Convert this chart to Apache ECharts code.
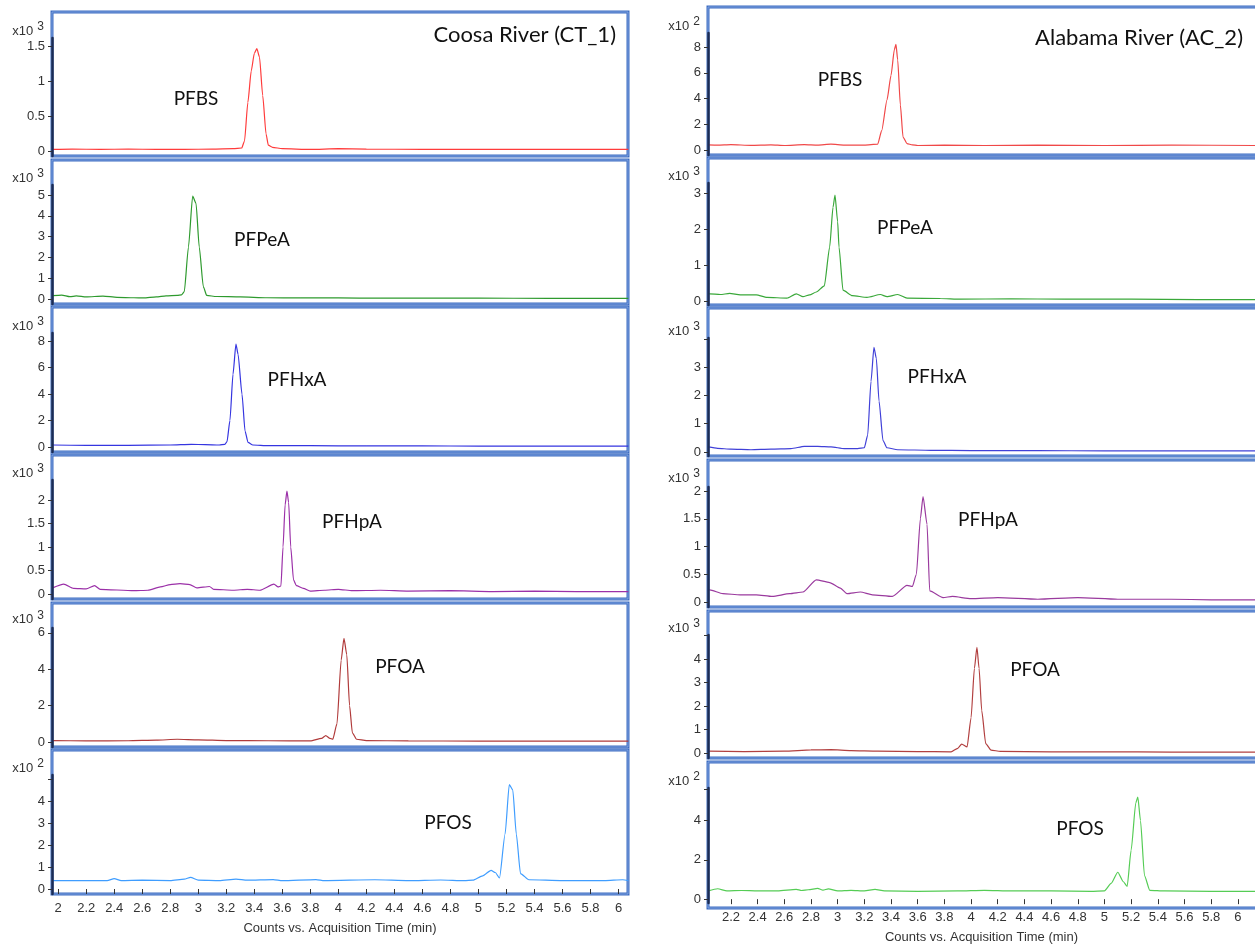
<!DOCTYPE html>
<html>
<head>
<meta charset="utf-8">
<script src="https://cdn.jsdelivr.net/npm/echarts@6/dist/echarts.min.js"></script>
<style>
html,body{margin:0;padding:0;background:#fff;}
#chart{width:1255px;height:945px;}
</style>
</head>
<body>
<div id="chart"></div>
<script>
// ---------------- DATA ----------------
const compounds = ['PFBS', 'PFPeA', 'PFHxA', 'PFHpA', 'PFOA', 'PFOS'];
const sites = ['Coosa River (CT_1)', 'Alabama River (AC_2)'];
const xTitle = 'Counts vs. Acquisition Time (min)';
const expLeft = [3, 3, 3, 3, 3, 2];
const expRight = [2, 3, 3, 3, 3, 2];

const xTicksLeft = [2, 2.2, 2.4, 2.6, 2.8, 3, 3.2, 3.4, 3.6, 3.8, 4, 4.2, 4.4, 4.6, 4.8, 5, 5.2, 5.4, 5.6, 5.8, 6];
const xTicksRight = [2.2, 2.4, 2.6, 2.8, 3, 3.2, 3.4, 3.6, 3.8, 4, 4.2, 4.4, 4.6, 4.8, 5, 5.2, 5.4, 5.6, 5.8, 6];

const yLabelsLeft = [[0, 0.5, 1, 1.5], [0, 1, 2, 3, 4, 5], [0, 2, 4, 6, 8], [0, 0.5, 1, 1.5, 2], [0, 2, 4, 6], [0, 1, 2, 3, 4]];
const yExtraTicksLeft = [[], [], [], [], [], [5]];
const yLabelsRight = [[0, 2, 4, 6, 8], [0, 1, 2, 3], [0, 1, 2, 3], [0, 0.5, 1, 1.5, 2], [0, 1, 2, 3, 4], [0, 2, 4]];
const yExtraTicksRight = [[], [], [4], [], [5], [5.6]];

// Coosa River (CT_1)  [time (min), counts in axis units]
const ct1_PFBS = [[1.96,0.03],[2.1,0.035],[2.3,0.03],[2.5,0.035],[2.7,0.03],[2.9,0.03],[3.1,0.035],[3.25,0.04],[3.31,0.05],[3.33,0.15],[3.354,0.7],[3.378,1.15],[3.40,1.4],[3.418,1.47],[3.437,1.35],[3.46,0.8],[3.484,0.25],[3.50,0.09],[3.53,0.06],[3.6,0.04],[3.8,0.03],[4.0,0.04],[4.2,0.035],[4.6,0.03],[5.0,0.03],[5.5,0.03],[6.07,0.03]];
const ct1_PFPeA = [[1.96,0.16],[2.025,0.19],[2.084,0.11],[2.13,0.15],[2.2,0.1],[2.32,0.14],[2.42,0.08],[2.54,0.06],[2.61,0.05],[2.70,0.1],[2.77,0.15],[2.85,0.17],[2.88,0.2],[2.90,0.35],[2.93,2.5],[2.96,4.95],[2.984,4.6],[3.007,2.5],[3.036,0.6],[3.06,0.17],[3.13,0.12],[3.3,0.1],[3.49,0.06],[3.73,0.05],[4.0,0.05],[4.3,0.04],[4.6,0.04],[5.0,0.04],[5.5,0.03],[6.07,0.03]];
const ct1_PFHxA = [[1.96,0.15],[2.2,0.12],[2.5,0.12],[2.8,0.15],[2.95,0.2],[3.05,0.18],[3.15,0.15],[3.19,0.2],[3.205,0.4],[3.226,2.0],[3.248,5.5],[3.269,7.77],[3.284,7.0],[3.312,4.0],[3.334,1.2],[3.355,0.35],[3.39,0.15],[3.5,0.1],[3.8,0.1],[4.2,0.08],[4.6,0.08],[5.0,0.07],[5.5,0.07],[6.07,0.06]];
const ct1_PFHpA = [[1.96,0.13],[2.04,0.21],[2.11,0.12],[2.2,0.11],[2.26,0.18],[2.3,0.1],[2.54,0.07],[2.64,0.08],[2.73,0.15],[2.80,0.2],[2.87,0.22],[2.94,0.2],[2.99,0.13],[3.08,0.16],[3.11,0.1],[3.25,0.08],[3.35,0.1],[3.44,0.08],[3.54,0.21],[3.57,0.15],[3.59,0.17],[3.605,1.0],[3.62,1.9],[3.633,2.19],[3.645,1.95],[3.66,1.0],[3.68,0.3],[3.70,0.18],[3.75,0.12],[3.8,0.06],[3.9,0.08],[4.0,0.1],[4.1,0.07],[4.3,0.08],[4.5,0.06],[4.8,0.07],[5.1,0.05],[5.4,0.06],[5.7,0.05],[6.07,0.05]];
const ct1_PFOA = [[1.96,0.08],[2.2,0.06],[2.5,0.07],[2.7,0.1],[2.85,0.15],[3.0,0.12],[3.2,0.08],[3.5,0.07],[3.8,0.06],[3.88,0.2],[3.91,0.35],[3.94,0.2],[3.96,0.15],[3.99,1.0],[4.02,4.5],[4.04,5.7],[4.06,4.8],[4.08,2.0],[4.10,0.5],[4.13,0.15],[4.2,0.08],[4.5,0.06],[5.0,0.05],[5.5,0.05],[6.07,0.05]];
const ct1_PFOS = [[1.96,0.38],[2.2,0.38],[2.35,0.38],[2.4,0.47],[2.45,0.38],[2.6,0.4],[2.8,0.38],[2.9,0.45],[2.945,0.53],[3.0,0.4],[3.15,0.38],[3.27,0.45],[3.35,0.4],[3.535,0.43],[3.6,0.38],[3.84,0.43],[3.9,0.38],[4.26,0.42],[4.5,0.38],[4.73,0.41],[4.9,0.38],[4.96,0.4],[5.03,0.6],[5.09,0.85],[5.12,0.75],[5.15,0.5],[5.19,2.5],[5.22,4.75],[5.245,4.5],[5.27,2.5],[5.3,0.7],[5.36,0.42],[5.6,0.38],[5.9,0.38],[6.03,0.42],[6.07,0.38]];

// Alabama River (AC_2)
const ac2_PFBS = [[2.03,0.4],[2.1,0.38],[2.2,0.42],[2.35,0.36],[2.5,0.4],[2.6,0.35],[2.75,0.42],[2.85,0.38],[2.95,0.45],[3.05,0.38],[3.2,0.38],[3.30,0.45],[3.33,1.5],[3.37,3.9],[3.40,5.8],[3.425,7.8],[3.437,8.2],[3.45,7.0],[3.47,3.5],[3.49,1.0],[3.52,0.5],[3.56,0.4],[3.6,0.35],[3.8,0.38],[4.1,0.35],[4.5,0.38],[5.0,0.35],[5.5,0.38],[6.13,0.35]];
const ac2_PFPeA = [[2.03,0.2],[2.04,0.2],[2.12,0.18],[2.19,0.21],[2.27,0.17],[2.39,0.17],[2.47,0.1],[2.62,0.08],[2.69,0.2],[2.74,0.12],[2.79,0.17],[2.84,0.25],[2.9,0.42],[2.94,1.5],[2.965,2.6],[2.98,2.94],[3.0,2.2],[3.01,1.5],[3.04,0.3],[3.11,0.15],[3.22,0.1],[3.32,0.18],[3.37,0.12],[3.45,0.18],[3.52,0.08],[3.77,0.07],[3.92,0.05],[4.3,0.06],[4.7,0.05],[5.2,0.05],[5.7,0.04],[6.13,0.04]];
const ac2_PFHxA = [[2.03,0.18],[2.1,0.13],[2.2,0.1],[2.35,0.08],[2.5,0.1],[2.65,0.12],[2.75,0.2],[2.85,0.2],[2.95,0.18],[3.05,0.12],[3.15,0.12],[3.2,0.15],[3.225,0.6],[3.25,2.5],[3.272,3.7],[3.29,3.3],[3.31,1.8],[3.34,0.4],[3.37,0.15],[3.45,0.08],[3.7,0.06],[4.0,0.05],[4.5,0.05],[5.0,0.04],[5.5,0.04],[6.13,0.04]];
const ac2_PFHpA = [[2.03,0.22],[2.04,0.22],[2.14,0.15],[2.27,0.13],[2.39,0.13],[2.51,0.1],[2.64,0.15],[2.74,0.18],[2.84,0.4],[2.94,0.35],[3.02,0.25],[3.07,0.15],[3.17,0.18],[3.26,0.13],[3.41,0.1],[3.52,0.3],[3.56,0.28],[3.59,0.5],[3.62,1.5],[3.64,1.9],[3.67,1.4],[3.69,0.2],[3.79,0.08],[3.86,0.1],[4.0,0.06],[4.2,0.08],[4.5,0.05],[4.8,0.08],[5.1,0.05],[5.5,0.05],[5.8,0.04],[6.13,0.04]];
const ac2_PFOA = [[2.03,0.08],[2.3,0.06],[2.6,0.08],[2.8,0.13],[2.95,0.14],[3.1,0.1],[3.3,0.08],[3.6,0.06],[3.85,0.05],[3.9,0.2],[3.93,0.38],[3.97,0.26],[4.0,1.5],[4.025,3.6],[4.044,4.5],[4.06,3.6],[4.08,1.8],[4.11,0.4],[4.15,0.12],[4.22,0.07],[4.6,0.05],[5.0,0.05],[5.5,0.04],[6.13,0.04]];
const ac2_PFOS = [[2.03,0.42],[2.1,0.53],[2.17,0.42],[2.28,0.44],[2.4,0.42],[2.55,0.42],[2.69,0.5],[2.73,0.44],[2.78,0.48],[2.85,0.55],[2.89,0.46],[2.93,0.52],[3.0,0.42],[3.1,0.45],[3.2,0.42],[3.28,0.5],[3.35,0.42],[3.6,0.4],[3.9,0.42],[4.1,0.45],[4.3,0.42],[4.6,0.42],[4.9,0.4],[5.0,0.42],[5.05,0.8],[5.1,1.37],[5.14,0.9],[5.17,0.65],[5.2,2.5],[5.235,4.9],[5.25,5.2],[5.27,4.0],[5.3,1.2],[5.34,0.45],[5.45,0.42],[5.8,0.4],[6.13,0.4]];

const ct1Series = [ct1_PFBS, ct1_PFPeA, ct1_PFHxA, ct1_PFHpA, ct1_PFOA, ct1_PFOS];
const ac2Series = [ac2_PFBS, ac2_PFPeA, ac2_PFHxA, ac2_PFHpA, ac2_PFOA, ac2_PFOS];

// ---------------- STYLE / LAYOUT ----------------
const colorsLeft = ['#ff3b3b', '#2e9a2e', '#3535e0', '#9b30a8', '#b03a3a', '#3f9dff'];
const colorsRight = ['#f04848', '#3aa83a', '#4040d8', '#9a3a9e', '#b24040', '#55cc55'];

const CANVAS_W = 1255;
const colLeft = { left: 52, width: 576, xMin: 1.956, ppu: 140.1 };
const colRight = { left: 708, width: 570, xMin: 2.028, ppu: 133.4 };
// [boxTop, boxBottom, axisTop, zeroPx, pxPerUnit]
const geoLeft = [[12,156,38,151.5,70],[160,304,185,299,20.8],[307,452,333,447,13.25],[455,599,480,594,47],[603,747,628,742,18.2],[750,894,775,889,22]];
const geoRight = [[7,155,33,150,12.875],[158,305,183,301,36],[308,456,338,452,28.3],[460,607,487,602,55.5],[611,758,635,753,23.5],[762,908,788,904,20.5]];
const labelPosLeft = [[196,99],[262,240],[297,380],[352,522],[400,667],[448,823]];
const labelPosRight = [[840,80],[905,228],[937,377],[988,520],[1035,670],[1080,829]];

const fmt = v => String(+(+v).toFixed(2));
const grids = [], xAxes = [], yAxes = [], series = [], graphics = [];
const tickFont = { color: '#333', fontSize: 13, fontFamily: 'Liberation Sans' };

function addColumn(col, geo, dataList, colors, exps, yLabels, yExtra, xTicks, labelPos) {
  const gridW = Math.min(col.width, CANVAS_W - col.left);
  const xMax = col.xMin + gridW / col.ppu;
  for (let i = 0; i < 6; i++) {
    const [boxTop, boxBottom, axisTop, zeroPx, ppu] = geo[i];
    const idx = grids.length;
    const isBottom = i === 5;
    grids.push({ left: col.left, top: axisTop, width: gridW, height: boxBottom - axisTop, containLabel: false });
    graphics.push({ type: 'rect', z: 0, silent: true,
      shape: { x: col.left, y: boxTop, width: col.width, height: boxBottom - boxTop },
      style: { fill: 'none', stroke: '#3d6cc2', lineWidth: 3 } });
    graphics.push({ type: 'rect', z: 0, silent: true,
      shape: { x: col.left, y: boxTop, width: col.width, height: boxBottom - boxTop },
      style: { fill: 'none', stroke: '#8fb0e6', lineWidth: 0.8 } });
    xAxes.push({
      type: 'value', gridIndex: idx, min: col.xMin, max: xMax, show: isBottom,
      axisLine: { show: false }, splitLine: { show: false },
      axisTick: { show: isBottom, length: 5, customValues: xTicks, lineStyle: { color: '#333' } },
      axisLabel: Object.assign({ show: isBottom, customValues: xTicks, formatter: fmt, margin: 8 }, tickFont),
      name: isBottom ? xTitle : '', nameLocation: 'middle', nameGap: 28,
      nameTextStyle: { color: '#333', fontSize: 13, fontFamily: 'Liberation Sans' }
    });
    yAxes.push({
      type: 'value', gridIndex: idx, z: 5,
      min: -(boxBottom - zeroPx) / ppu, max: (zeroPx - axisTop) / ppu,
      axisLine: { show: true, lineStyle: { color: '#1c2c55', width: 2.5 } },
      axisTick: { show: true, length: 4, customValues: yLabels[i].concat(yExtra[i]), lineStyle: { color: '#333' } },
      axisLabel: Object.assign({ customValues: yLabels[i], formatter: fmt, margin: 7 }, tickFont),
      splitLine: { show: false },
      name: '{a|x10}{b|' + exps[i] + '}', nameLocation: 'end', nameGap: 9,
      nameTextStyle: { align: 'right', verticalAlign: 'middle', padding: [0, 8, 0, 0],
        rich: { a: { fontSize: 13, color: '#333', fontFamily: 'Liberation Sans', verticalAlign: 'bottom', lineHeight: 17 },
                b: { fontSize: 12, color: '#333', fontFamily: 'Liberation Sans', verticalAlign: 'top', lineHeight: 17, padding: [0, 0, 0, 4] } } }
    });
    series.push({
      type: 'line', xAxisIndex: idx, yAxisIndex: idx, data: dataList[i], showSymbol: false,
      smooth: 0.2, smoothMonotone: 'x',
      lineStyle: { color: colors[i], width: 1.2 }, itemStyle: { color: colors[i] },
      animation: false, silent: true, clip: true, z: 3
    });
    graphics.push({ type: 'text', z: 10, silent: true,
      style: { text: compounds[i], x: labelPos[i][0], y: labelPos[i][1], align: 'center', verticalAlign: 'middle',
        fontSize: 19, fontFamily: 'Lato', fill: '#111' } });
  }
}

addColumn(colLeft, geoLeft, ct1Series, colorsLeft, expLeft, yLabelsLeft, yExtraTicksLeft, xTicksLeft, labelPosLeft);
addColumn(colRight, geoRight, ac2Series, colorsRight, expRight, yLabelsRight, yExtraTicksRight, xTicksRight, labelPosRight);

graphics.push({ type: 'text', z: 10, silent: true,
  style: { text: sites[0], x: 616, y: 35, align: 'right', verticalAlign: 'middle', fontSize: 22, fontFamily: 'Lato', fill: '#111' } });
graphics.push({ type: 'text', z: 10, silent: true,
  style: { text: sites[1], x: 1243, y: 38, align: 'right', verticalAlign: 'middle', fontSize: 22, fontFamily: 'Lato', fill: '#111' } });

const chart = echarts.init(document.getElementById('chart'), null, { renderer: 'canvas' });
chart.setOption({
  backgroundColor: '#ffffff',
  animation: false,
  grid: grids, xAxis: xAxes, yAxis: yAxes, series: series, graphic: graphics
});
</script>
</body>
</html>
